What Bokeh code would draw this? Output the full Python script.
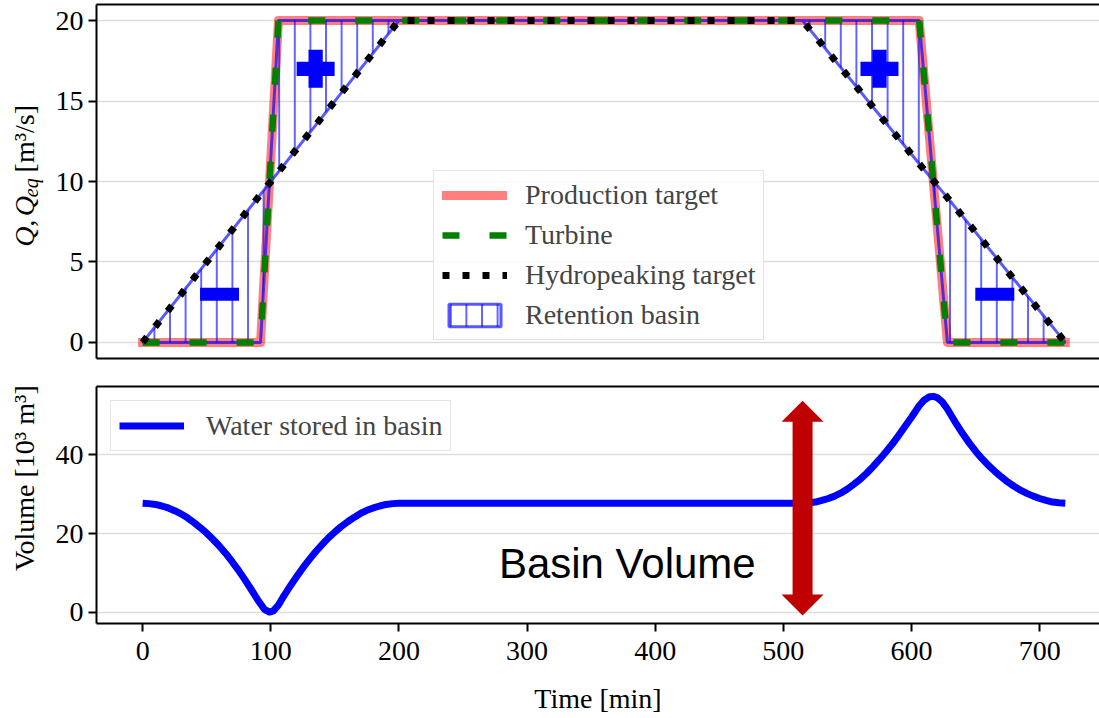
import math
from bokeh.plotting import figure
from bokeh.models import Range1d, LinearAxis, Legend, LegendItem, Label, FixedTicker, Grid
from bokeh.layouts import column, row
from bokeh.embed import file_html
from bokeh.resources import INLINE

# ---------------- data ----------------
time_q = [0, 92, 106, 200, 515, 606, 628, 720]
q_production = [0, 0, 20, 20, 20, 20, 0, 0]
q_turbine = [0, 0, 20, 20, 20, 20, 0, 0]
q_hydropeaking = [0, 9.2, 10.6, 20, 20, 11.1, 9.0, 0]

plus_t = [135, 575]
plus_q = [17.0, 17.0]
minus_t = [60, 665]
minus_q = [3.0, 3.0]

time_v = [0, 5, 10, 15, 20, 25, 30, 35, 40, 45, 50, 55, 60, 65, 70, 75, 80, 85, 90,
          95, 99, 102, 106, 110, 115, 120, 125, 130, 135, 140, 145, 150, 155, 160,
          165, 170, 175, 180, 185, 190, 195, 200, 300, 400, 515, 520, 525, 530, 535,
          540, 545, 550, 555, 560, 565, 570, 575, 580, 585, 590, 595, 600, 606, 610,
          614, 617, 620, 624, 628, 635, 640, 645, 650, 655, 660, 665, 670, 675, 680,
          685, 690, 695, 700, 705, 710, 715, 720]
volume = [27.7, 27.6, 27.4, 27.0, 26.5, 25.8, 25.0, 24.0, 22.8, 21.5, 20.1, 18.5, 16.8,
          14.9, 12.8, 10.6, 8.2, 5.7, 3.1, 0.8, 0.1, 0.4, 1.9, 4.1, 6.6, 9.0, 11.3, 13.4,
          15.4, 17.2, 18.9, 20.4, 21.8, 23.0, 24.1, 25.1, 25.9, 26.5, 27.0, 27.4, 27.6,
          27.7, 27.7, 27.7, 27.7, 27.8, 28.0, 28.4, 28.9, 29.5, 30.3, 31.3, 32.5, 33.8,
          35.3, 37.0, 38.8, 40.7, 42.7, 44.9, 47.2, 49.5, 52.4, 53.9, 54.7, 54.8, 54.5,
          53.4, 51.6, 47.8, 45.3, 43.0, 40.9, 39.0, 37.3, 35.8, 34.4, 33.1, 32.0, 31.0,
          30.2, 29.5, 28.9, 28.4, 28.0, 27.8, 27.7]

arrow_t = 515
arrow_v_low = -0.8
arrow_v_high = 53.7
basin_text_t = 278
basin_text_v = 12.4

x_ticks = [0, 100, 200, 300, 400, 500, 600, 700]
q_ticks = [0, 5, 10, 15, 20]
v_ticks = [0, 20, 40]

# ---------------- layout constants ----------------
SERIF = "Liberation Serif"
FS = "28px"
LAB_W = 52           # narrow figure holding the rotated y labels
W = 1099 - LAB_W
BORDER_LEFT = 44
X0, X1 = -36, 746.7
Q0, Q1 = -1, 21
V0, V1 = -2.8, 57.3
F1_H = 354
F2_H = 237
P1_TOP, P1_BOT = 4, 13
P2_TOP, P2_BOT = 15, 93
P1_H = P1_TOP + F1_H + P1_BOT
P2_H = P2_TOP + F2_H + P2_BOT

x_range = Range1d(X0, X1)


def make_axis(ticks, labels=True, tick_marks=True):
    ax = LinearAxis(ticker=FixedTicker(ticks=ticks))
    ax.axis_line_color = "black"
    ax.axis_line_width = 2
    ax.major_tick_line_color = "black" if tick_marks else None
    ax.major_tick_line_width = 2
    ax.major_tick_out = 8 if tick_marks else 0
    ax.major_tick_in = 0
    ax.minor_tick_line_color = None
    ax.major_label_text_font = SERIF
    ax.major_label_text_color = "black"
    ax.major_label_text_font_size = FS
    if not labels:
        ax.major_label_standoff = 0
    return ax


def make_fig(height, y0, y1, top, bottom, y_ticks):
    p = figure(width=W, height=height, x_range=x_range, y_range=Range1d(y0, y1),
               output_backend="svg", toolbar_location=None,
               x_axis_location=None, y_axis_location=None,
               min_border_left=BORDER_LEFT, min_border_right=0,
               min_border_top=top, min_border_bottom=bottom,
               background_fill_color="white", border_fill_color="white")
    p.outline_line_color = None
    for g in p.grid:
        g.visible = False
    p.add_layout(Grid(dimension=1, ticker=FixedTicker(ticks=y_ticks),
                      grid_line_color="#dddddd", grid_line_width=1.6))
    p.add_layout(make_axis([], labels=False, tick_marks=False), "above")
    yax = make_axis(y_ticks)
    yax.major_label_standoff = 5
    p.add_layout(yax, "left")
    return p


def make_label_fig(height):
    f = figure(width=LAB_W, height=height, x_range=Range1d(0, LAB_W),
               y_range=Range1d(0, height), output_backend="svg",
               toolbar_location=None, x_axis_location=None, y_axis_location=None,
               min_border=0, min_border_left=0, min_border_right=0,
               min_border_top=0, min_border_bottom=0,
               background_fill_color="white", border_fill_color="white")
    f.outline_line_color = None
    for g in f.grid:
        g.visible = False
    return f


def vlabel(f, text, x, y, size=FS, style="normal", align="left"):
    f.add_layout(Label(x=x, y=y, text=text, angle=math.pi / 2, text_font=SERIF,
                       text_font_size=size, text_font_style=style, text_align=align,
                       text_baseline="middle", text_color="black"))


# ---------------- top figure ----------------
p1 = make_fig(P1_H, Q0, Q1, P1_TOP, P1_BOT, q_ticks)
p1.add_layout(make_axis([], labels=False, tick_marks=False), "below")

r_prod = p1.line(time_q, q_production, line_color="#ff0000", line_alpha=0.5,
                 line_width=9, line_join="round", line_cap="square")
basin_x = time_q + time_q[::-1]
basin_y = q_hydropeaking + q_production[::-1]
r_basin = p1.patch(basin_x, basin_y, fill_color=None, hatch_pattern="|",
                   hatch_color="blue", hatch_weight=1.2, hatch_scale=15.6,
                   line_color="blue", line_alpha=0.65, line_width=3)
r_turb = p1.line(time_q, q_turbine, line_color="green", line_width=6.5,
                 line_dash="17 30")
r_hp = p1.line(time_q, q_hydropeaking, line_color="black", line_width=7,
               line_dash="7 13")
p1.scatter(plus_t, plus_q, marker="plus", size=38, fill_color="blue", line_color=None)
p1.scatter(minus_t, minus_q, marker="dash", size=39, line_color="blue", line_width=13)

leg1 = Legend(items=[LegendItem(label="Production target", renderers=[r_prod]),
                     LegendItem(label="Turbine", renderers=[r_turb]),
                     LegendItem(label="Hydropeaking target", renderers=[r_hp]),
                     LegendItem(label="Retention basin", renderers=[r_basin])],
              location=(337, 18), margin=0, padding=8, spacing=8,
              glyph_width=65, glyph_height=28, label_height=28, label_standoff=18,
              label_text_font=SERIF, label_text_font_size=FS,
              border_line_color="#cccccc", border_line_width=1.5,
              background_fill_alpha=0.8)
p1.add_layout(leg1)

lab1 = make_label_fig(P1_H)
vlabel(lab1, "Q,", 24, P1_H - 254, style="italic")
vlabel(lab1, "Q", 24, P1_H - 222, style="italic")
vlabel(lab1, "eq", 30, P1_H - 202, size="20px", style="italic")
vlabel(lab1, "[m³/s]", 24, P1_H - 176)

# ---------------- bottom figure ----------------
p2 = make_fig(P2_H, V0, V1, P2_TOP, P2_BOT, v_ticks)
xax = make_axis(x_ticks)
xax.major_label_standoff = 10
xax.axis_label = "Time [min]"
xax.axis_label_text_font = SERIF
xax.axis_label_text_font_size = FS
xax.axis_label_text_font_style = "normal"
xax.axis_label_text_color = "black"
xax.axis_label_standoff = 20
p2.add_layout(xax, "below")

r_vol = p2.line(time_v, volume, line_color="blue", line_width=7, line_join="round")

# double arrow built around its anchor values
px_per_t = (W - BORDER_LEFT) / (X1 - X0)
px_per_v = F2_H / (V1 - V0)
shaft = 10 / px_per_t
head_w = 21 / px_per_t
head_l = 21 / px_per_v
ax_ = [arrow_t - shaft, arrow_t - head_w, arrow_t, arrow_t + head_w, arrow_t + shaft,
       arrow_t + shaft, arrow_t + head_w, arrow_t, arrow_t - head_w, arrow_t - shaft]
ay_ = [arrow_v_low + head_l, arrow_v_low + head_l, arrow_v_low, arrow_v_low + head_l,
       arrow_v_low + head_l, arrow_v_high - head_l, arrow_v_high - head_l, arrow_v_high,
       arrow_v_high - head_l, arrow_v_high - head_l]
p2.patch(ax_, ay_, fill_color="#c00000", line_color=None)

p2.add_layout(Label(x=basin_text_t, y=basin_text_v, text="Basin Volume",
                    text_font="Liberation Sans", text_font_size="42px",
                    text_baseline="alphabetic", text_color="black"))

leg2 = Legend(items=[LegendItem(label="Water stored in basin", renderers=[r_vol])],
              location="top_left", margin=14, padding=8,
              glyph_width=65, glyph_height=33, label_height=33, label_standoff=22,
              label_text_font=SERIF, label_text_font_size=FS,
              border_line_color="#cccccc", border_line_width=1.5,
              background_fill_alpha=0.8)
p2.add_layout(leg2)

lab2 = make_label_fig(P2_H)
vlabel(lab2, "Volume [10³ m³]", 24, P2_H - (504.4 - P1_H), align="center")

layout = column(row(lab1, p1), row(lab2, p2))
open("out.html", "w").write(file_html(layout, INLINE))
